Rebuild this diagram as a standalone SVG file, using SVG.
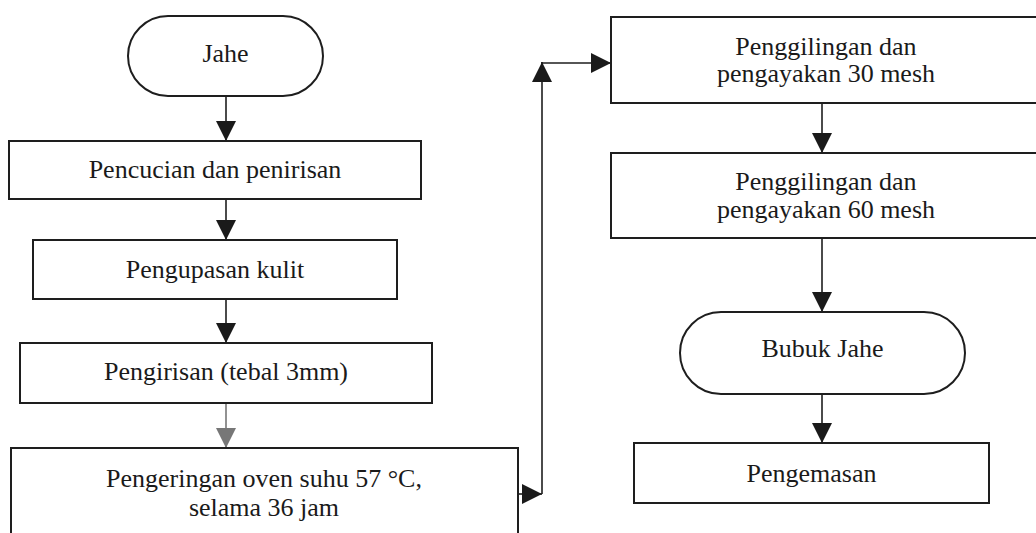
<svg xmlns="http://www.w3.org/2000/svg" width="1036" height="533" viewBox="0 0 1036 533">
<defs>
<style>
.box{fill:#fff;stroke:#1e1e1e;stroke-width:2}
.t{font-family:"Liberation Serif","Times New Roman",serif;font-size:26px;fill:#1a1a1a;text-anchor:middle}
.ln{fill:none;stroke:#1e1e1e;stroke-width:1.6}
.lg{fill:none;stroke:#777;stroke-width:1.6}
</style>
<marker id="ah" markerUnits="userSpaceOnUse" viewBox="0 0 20 20" refX="20" refY="10" markerWidth="20" markerHeight="20" orient="auto">
<path d="M0,0 L20,10 L0,20 Z" fill="#1a1a1a"/>
</marker>
<marker id="ahg" markerUnits="userSpaceOnUse" viewBox="0 0 20 20" refX="20" refY="10" markerWidth="20" markerHeight="20" orient="auto">
<path d="M0,0 L20,10 L0,20 Z" fill="#777"/>
</marker>
</defs>
<rect width="1036" height="533" fill="#fff"/>
<g id="connectors">
<line class="ln" x1="226" y1="96" x2="226" y2="141" marker-end="url(#ah)"/>
<line class="ln" x1="226" y1="199" x2="226" y2="240" marker-end="url(#ah)"/>
<line class="ln" x1="226" y1="299" x2="226" y2="343" marker-end="url(#ah)"/>
<line class="lg" x1="226" y1="403" x2="226" y2="448" marker-end="url(#ahg)"/>
<line class="ln" x1="518" y1="494" x2="542" y2="494" marker-end="url(#ah)"/>
<line class="ln" x1="542" y1="494" x2="542" y2="62" marker-end="url(#ah)"/>
<line class="ln" x1="541" y1="63" x2="611" y2="63" marker-end="url(#ah)"/>
<line class="ln" x1="822" y1="103" x2="822" y2="153" marker-end="url(#ah)"/>
<line class="ln" x1="822" y1="238" x2="822" y2="312" marker-end="url(#ah)"/>
<line class="ln" x1="822" y1="394" x2="822" y2="443" marker-end="url(#ah)"/>
</g>
<g id="n-jahe">
<rect class="box" x="128" y="16" width="195" height="80" rx="40" ry="40"/>
<text class="t" x="225.5" y="62">Jahe</text>
</g>
<g id="n-pencucian">
<rect class="box" x="9" y="141" width="412" height="58"/>
<text class="t" x="215" y="178">Pencucian dan penirisan</text>
</g>
<g id="n-pengupasan">
<rect class="box" x="33" y="240" width="364" height="59"/>
<text class="t" x="215" y="278">Pengupasan kulit</text>
</g>
<g id="n-pengirisan">
<rect class="box" x="20" y="343" width="412" height="60"/>
<text class="t" x="226" y="380">Pengirisan (tebal 3mm)</text>
</g>
<g id="n-pengeringan">
<rect class="box" x="11" y="448" width="507" height="95"/>
<text class="t" x="264" y="487">Pengeringan oven suhu 57 °C,</text>
<text class="t" x="264" y="516">selama 36 jam</text>
</g>
<g id="n-giling30">
<rect class="box" x="611" y="17" width="440" height="86"/>
<text class="t" x="826" y="55">Penggilingan dan</text>
<text class="t" x="826" y="82">pengayakan 30 mesh</text>
</g>
<g id="n-giling60">
<rect class="box" x="611" y="153" width="440" height="85"/>
<text class="t" x="826" y="190">Penggilingan dan</text>
<text class="t" x="826" y="218">pengayakan 60 mesh</text>
</g>
<g id="n-bubuk">
<rect class="box" x="680" y="312" width="285" height="82" rx="41" ry="41"/>
<text class="t" x="822.5" y="357">Bubuk Jahe</text>
</g>
<g id="n-pengemasan">
<rect class="box" x="634" y="443" width="355" height="60"/>
<text class="t" x="811.5" y="482">Pengemasan</text>
</g>
</svg>
